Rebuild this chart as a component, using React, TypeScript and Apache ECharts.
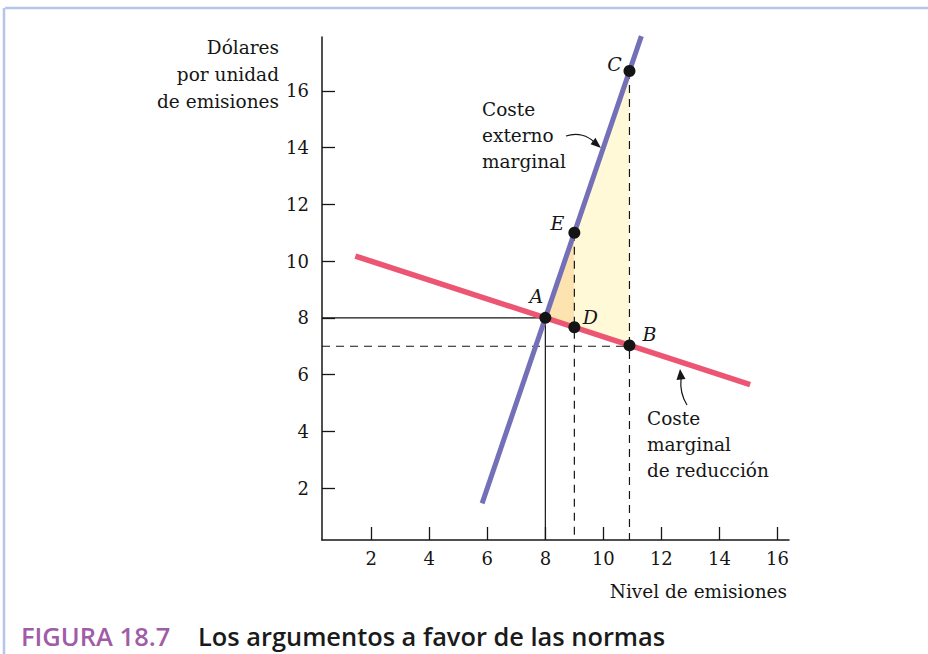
import React, { useEffect, useRef } from 'react';
import * as echarts from 'echarts';

// ---- data ----
const xTicks = [2, 4, 6, 8, 10, 12, 14, 16];
const yTicks = [2, 4, 6, 8, 10, 12, 14, 16];
const xMin = 0.3;
const xMax = 16.4;
const yMin = 0.17;
const yMax = 17.9;

// Coste externo marginal (purple)
const mecLine = [[5.82, 1.46], [11.31, 17.93]];
// Coste marginal de reducción (pink)
const macLine = [[1.45, 10.18], [15.06, 5.65]];

const pointNames = ['A', 'D', 'B', 'E', 'C'];
const pointValues = [[8, 8], [9, 7.67], [10.9, 7.03], [9, 11], [10.9, 16.7]];
const labelOffsets = [[-9, -22], [16, -10], [20, -11], [-17, -10], [-15, -7]];

const smallArea = [[8, 8], [9, 11], [9, 7.67]];
const bigArea = [[9, 11], [10.9, 16.7], [10.9, 7.03], [9, 7.67]];

const solidGuide = [[xMin, 8], [8, 8], [8, yMin]];
const dashedH = [[xMin, 7], [10.9, 7]];
const dashedV1 = [[9, 11], [9, yMin]];
const dashedV2 = [[10.9, 16.7], [10.9, yMin]];

const SERIF = '"DejaVu Serif", serif';
const INK = '#161616';

export default function App() {
  const ref = useRef<HTMLDivElement>(null);
  useEffect(() => {
    if (!ref.current) return;
    const chart = echarts.init(ref.current, null, { renderer: 'svg' });
    const fills = [
      { pts: smallArea, color: '#FDE3B0' },
      { pts: bigArea, color: '#FFF9D8' },
    ];
    const lineSeries = (data: number[][], color: string, width: number, type: any, z: number) => ({
      type: 'line',
      data,
      symbol: 'none',
      silent: true,
      z,
      lineStyle: { color, width, type },
    });
    chart.setOption({
      animation: false,
      textStyle: { fontFamily: SERIF },
      grid: { left: 322, top: 37, right: 139, bottom: 114 },
      xAxis: {
        type: 'value',
        min: xMin,
        max: xMax,
        splitLine: { show: false },
        axisLine: { lineStyle: { color: INK, width: 1.5 } },
        axisTick: { show: true, inside: true, length: 13, customValues: xTicks, lineStyle: { color: INK, width: 1.3 } },
        axisLabel: { customValues: xTicks, margin: 9, fontSize: 18, color: INK, fontFamily: SERIF },
      },
      yAxis: {
        type: 'value',
        min: yMin,
        max: yMax,
        splitLine: { show: false },
        axisLine: { lineStyle: { color: INK, width: 1.5 } },
        axisTick: { show: true, inside: true, length: 13, customValues: yTicks, lineStyle: { color: INK, width: 1.3 } },
        axisLabel: { customValues: yTicks, margin: 13, fontSize: 18, color: INK, fontFamily: SERIF },
      },
      series: [
        {
          type: 'custom',
          silent: true,
          z: 1,
          data: fills.map((_, i) => [i, i]),
          renderItem: (params: any, api: any) => {
            const f = fills[params.dataIndex];
            return {
              type: 'polygon',
              shape: { points: f.pts.map((p) => api.coord(p)) },
              style: { fill: f.color },
            };
          },
        },
        lineSeries(solidGuide, INK, 1.2, 'solid', 2),
        lineSeries(dashedH, INK, 1.2, [8, 6], 2),
        lineSeries(dashedV1, INK, 1.2, [8, 6], 2),
        lineSeries(dashedV2, INK, 1.2, [8, 6], 2),
        lineSeries(mecLine, '#7470B7', 5, 'solid', 3),
        lineSeries(macLine, '#EC5672', 5.5, 'solid', 3),
        {
          type: 'scatter',
          z: 5,
          symbolSize: 12,
          itemStyle: { color: '#141414', opacity: 1 },
          data: pointValues.map((v, i) => ({
            name: pointNames[i],
            value: v,
            label: {
              show: true,
              position: 'inside',
              offset: labelOffsets[i],
              formatter: pointNames[i],
              fontStyle: 'italic',
              fontSize: 19,
              color: INK,
              fontFamily: SERIF,
            },
          })),
        },
      ],
      graphic: [
        { type: 'line', shape: { x1: 5, y1: 8, x2: 928, y2: 8 }, style: { stroke: '#B5C6E8', lineWidth: 2.5 } },
        { type: 'line', shape: { x1: 4, y1: 8, x2: 4, y2: 654 }, style: { stroke: '#B5C6E8', lineWidth: 2.5 } },
        {
          type: 'text', x: 279, y: 34,
          style: { text: 'Dólares\npor unidad\nde emisiones', font: '18.5px ' + SERIF, fill: INK, align: 'right', verticalAlign: 'top', lineHeight: 27 },
        },
        {
          type: 'text', x: 787, y: 591,
          style: { text: 'Nivel de emisiones', font: '18.5px ' + SERIF, fill: INK, align: 'right', verticalAlign: 'middle' },
        },
        {
          type: 'text', x: 482, y: 96,
          style: { text: 'Coste\nexterno\nmarginal', font: '18.5px ' + SERIF, fill: INK, align: 'left', verticalAlign: 'top', lineHeight: 26 },
        },
        {
          type: 'text', x: 647, y: 405,
          style: { text: 'Coste\nmarginal\nde reducción', font: '18.5px ' + SERIF, fill: INK, align: 'left', verticalAlign: 'top', lineHeight: 26 },
        },
        {
          type: 'bezierCurve',
          shape: { x1: 566, y1: 136, cpx1: 578, cpy1: 132, cpx2: 588, cpy2: 136, x2: 594, y2: 142 },
          style: { stroke: INK, lineWidth: 1.2, fill: null },
        },
        {
          type: 'polygon',
          shape: { points: [[601, 148], [590.6, 144.2], [595.4, 137.8]] },
          style: { fill: INK },
        },
        {
          type: 'bezierCurve',
          shape: { x1: 687, y1: 405, cpx1: 682, cpy1: 397, cpx2: 680, cpy2: 389, x2: 681, y2: 379 },
          style: { stroke: INK, lineWidth: 1.2, fill: null },
        },
        {
          type: 'polygon',
          shape: { points: [[680, 369], [676.5, 380], [685.5, 379]] },
          style: { fill: INK },
        },
        {
          type: 'text', x: 21, y: 636,
          style: { text: 'FIGURA 18.7', font: '600 25.5px "Open Sans", sans-serif', fill: '#A05CA8', align: 'left', verticalAlign: 'middle' },
        },
        {
          type: 'text', x: 198, y: 636,
          style: { text: 'Los argumentos a favor de las normas', font: '600 25.4px "Open Sans", sans-serif', fill: '#1a1a1a', align: 'left', verticalAlign: 'middle' },
        },
      ],
    });
    return () => chart.dispose();
  }, []);
  return (
    <div
      ref={ref}
      style={{ position: 'fixed', left: 0, top: 0, width: 928, height: 654, background: '#fff' }}
    />
  );
}
